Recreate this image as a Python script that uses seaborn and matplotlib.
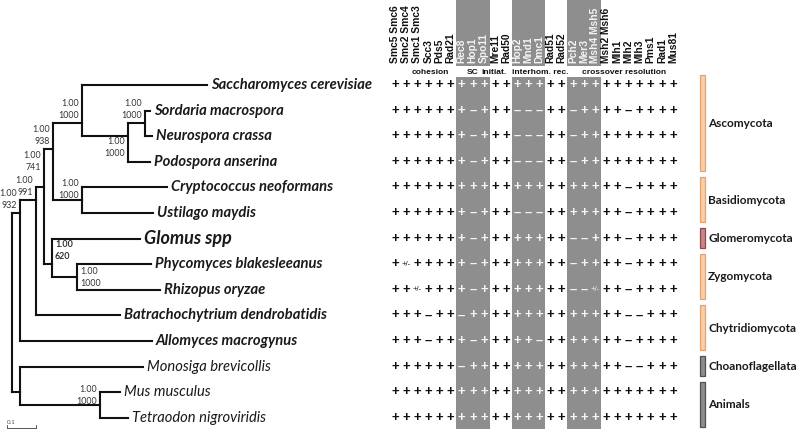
import matplotlib
matplotlib.use("Agg")
import numpy as np
import pandas as pd
import seaborn as sns
import matplotlib.pyplot as plt
from matplotlib.patches import Rectangle
from matplotlib.colors import ListedColormap
from matplotlib.collections import LineCollection
import matplotlib.transforms as mtransforms

# ---------------------------------------------------------------- data
species = ["Saccharomyces cerevisiae", "Sordaria macrospora", "Neurospora crassa",
           "Podospora anserina", "Cryptococcus neoformans", "Ustilago maydis",
           "Glomus spp", "Phycomyces blakesleeanus", "Rhizopus oryzae",
           "Batrachochytrium dendrobatidis", "Allomyces macrogynus",
           "Monosiga brevicollis", "Mus musculus", "Tetraodon nigroviridis"]
species_kind = ["fungus"] * 6 + ["glomus"] + ["fungus"] * 4 + ["other"] * 3

genes = ["Smc5 Smc6", "Smc2 Smc4", "Smc1 Smc3", "Scc3", "Pds5", "Rad21",
         "Rec8", "Hop1", "Spo11", "Mre11", "Rad50", "Hop2", "Mnd1", "Dmc1",
         "Rad51", "Rad52", "Pch2", "Mer3", "Msh4 Msh5", "Msh2 Msh6",
         "Mlh1", "Mlh2", "Mlh3", "Pms1", "Rad1", "Mus81"]
shaded = [0, 0, 0, 0, 0, 0, 1, 1, 1, 0, 0, 1, 1, 1, 0, 0, 1, 1, 1, 0, 0, 0, 0, 0, 0, 0]

process_labels = ["cohesion", "SC", "initiat.", "interhom. rec.", "crossover resolution"]

# '+' present, '-' absent, '~' uncertain (+/-)
presence = [
    "++++++" "+++" "++" "+++" "++" "+++" "+++++++",
    "++++++" "+-+" "++" "---" "++" "-++" "++-++++",
    "++++++" "+-+" "++" "---" "++" "-++" "+++++++",
    "++++++" "+-+" "++" "---" "++" "-++" "+++++++",
    "++++++" "+++" "++" "+++" "++" "+++" "++-++++",
    "++++++" "+-+" "++" "---" "++" "+++" "++-++++",
    "++++++" "+-+" "++" "+++" "++" "--+" "++-++++",
    "+~++++" "+-+" "++" "+++" "++" "-++" "++-++++",
    "++~+++" "+-+" "++" "+++" "++" "--~" "++-++++",
    "+++-++" "-++" "++" "+++" "++" "+++" "++--+++",
    "+++-++" "+-+" "++" "++-" "++" "+++" "++-++++",
    "++++++" "-++" "++" "+++" "++" "+++" "++--+++",
    "++++++" "+++" "++" "+++" "++" "+++" "+++++++",
    "++++++" "+++" "++" "+++" "++" "+++" "+++++++",
]
symbol = {"+": "+", "-": "\u2013", "~": "+/-"}

# tree: internal nodes (parents listed before children)
internal_nodes = ["root", "Fungi", "A", "B", "Dikarya", "Asco", "Pezizo", "SorNeu",
                  "Basidio", "GloZyg", "Zygo", "Holozoa", "Animals"]
internal_parent = [None, "root", "Fungi", "A", "B", "Dikarya", "Asco", "Pezizo",
                   "Dikarya", "B", "GloZyg", "root", "Holozoa"]
internal_branch = [0.0, 0.028, 0.056, 0.025, 0.032, 0.100, 0.159, 0.059,
                   0.100, 0.029, 0.086, 0.028, 0.275]
support_pp = [None, "1.00", "1.00", "1.00", "1.00", "1.00", "1.00", "1.00",
              "1.00", "1.00", "1.00", None, "1.00"]
support_bs = [None, "932", "991", "741", "938", "1000", "1000", "1000",
              "1000", "620", "1000", None, "1000"]
tip_parent = ["Asco", "SorNeu", "SorNeu", "Pezizo", "Basidio", "Basidio", "GloZyg",
              "Zygo", "Zygo", "A", "Fungi", "Holozoa", "Animals", "Animals"]
tip_branch = [0.431, 0.017, 0.024, 0.076, 0.293, 0.245, 0.303, 0.255, 0.286,
              0.288, 0.455, 0.424, 0.069, 0.097]

clades = ["Ascomycota", "Basidiomycota", "Glomeromycota", "Zygomycota",
          "Chytridiomycota", "Choanoflagellata", "Animals"]
clade_first = [0, 4, 6, 7, 9, 11, 12]
clade_last = [3, 5, 6, 8, 10, 11, 13]

# ---------------------------------------------------------------- styles / layout
W, H = 797, 432
ROW0, ROWSTEP = 85.0, 25.6          # px of first row, px between rows
COL0, COLSTEP = 395.0, 11.12        # px of first column, px between columns
ROOTX, TREESCALE = 12.0, 290.0      # px of root, px per tree unit

support_side = {"Fungi": "L", "A": "L", "B": "L", "Dikarya": "L", "Asco": "L",
                "Pezizo": "L", "SorNeu": "L", "Basidio": "L", "GloZyg": "R",
                "Zygo": "R", "Animals": "L"}
support_dy = {"Fungi": 0, "A": 0, "B": 12, "Dikarya": 0, "Asco": 0, "Pezizo": -24.5,
              "SorNeu": 0, "Basidio": -2.5, "GloZyg": 0, "Zygo": -14, "Animals": -3.5}
process_px = [430, 472.5, 494, 540, 624.5]
clade_fill = ["#f9cfa8", "#f9cfa8", "#c98486", "#f9cfa8", "#f9cfa8", "#8d8d8d", "#8d8d8d"]
clade_edge = ["#e3a470", "#e3a470", "#8e4a4e", "#e3a470", "#e3a470", "#505050", "#505050"]
GRAY = "#8e8e8e"


def col_x(px):
    return (px - COL0) / COLSTEP + 0.5


def row_y(px):
    return (px - ROW0) / ROWSTEP + 0.5


def tree_x(px):
    return (px - ROOTX) / TREESCALE


sns.set_style("white")
plt.rcParams["font.family"] = ["Lato", "DejaVu Sans"]

fig = plt.figure(figsize=(W / 100, H / 100), dpi=100)
ax_tree = fig.add_axes([0, 0, 1, 1])
ax_tab = fig.add_axes([0, 0, 1, 1])
ylim = (row_y(H), row_y(0))

# ---------------------------------------------------------------- table (seaborn heatmap)
n_rows, n_cols = len(species), len(genes)
shade = pd.DataFrame(np.tile(np.array(shaded, float), (n_rows, 1)), index=species, columns=genes)
annot = np.array([[symbol[c] for c in row] for row in presence])
sns.heatmap(shade, annot=annot, fmt="", cmap=ListedColormap(["#ffffff", GRAY]),
            vmin=0, vmax=1, cbar=False, linewidths=0, ax=ax_tab,
            xticklabels=False, yticklabels=False,
            annot_kws=dict(fontsize=9.5, family="Liberation Sans", fontweight="bold"))
mesh = ax_tab.collections[0]
clip = Rectangle((0, row_y(77)), n_cols, row_y(428.5) - row_y(77), transform=ax_tab.transData)
mesh.set_clip_path(clip)
for t in ax_tab.texts:
    x, y = t.get_position()
    j = int(x)
    t.set_color("#f4f4f4" if shaded[j] else "#111111")
    if t.get_text() == "+/-":
        t.set_fontsize(5.5)
        t.set_fontweight("normal")

# gray header bands
j = 0
while j < n_cols:
    if shaded[j]:
        k = j
        while k < n_cols and shaded[k]:
            k += 1
        ax_tab.add_patch(Rectangle((j, row_y(0)), k - j, row_y(66) - row_y(0),
                                   facecolor=GRAY, edgecolor="none", zorder=0))
        j = k
    else:
        j += 1

for j, g in enumerate(genes):
    ax_tab.text(j + 0.5, row_y(63), g, rotation=90, ha="center", va="bottom",
                fontsize=7.4, fontweight="bold", family="Liberation Sans",
                color="#f4f4f4" if shaded[j] else "#111111")
for lab, px in zip(process_labels, process_px):
    ax_tab.text(col_x(px), row_y(72), lab, ha="center", va="center", fontsize=6,
                fontweight="bold", family="Liberation Sans", color="#111111")

# clade bars
for name, f, l, fc, ec in zip(clades, clade_first, clade_last, clade_fill, clade_edge):
    y0, y1 = f + 0.1, l + 0.87
    ax_tab.add_patch(Rectangle((col_x(699.5), y0), col_x(705) - col_x(699.5), y1 - y0,
                               facecolor=fc, edgecolor=ec, linewidth=0.9))
    ax_tab.text(col_x(708), (f + l) / 2 + 0.5, name, ha="left", va="center",
                fontsize=8.5, fontweight="bold", color="#1a1a1a")

ax_tab.set_xlim(col_x(0), col_x(W))
ax_tab.set_ylim(*ylim)
ax_tab.axis("off")

# ---------------------------------------------------------------- tree
parent = dict(zip(internal_nodes, internal_parent))
parent.update(dict(zip(species, tip_parent)))
blen = dict(zip(internal_nodes, internal_branch))
blen.update(dict(zip(species, tip_branch)))

depth = {}
for n in internal_nodes + species:
    p = parent[n]
    depth[n] = 0.0 if p is None else depth[p] + blen[n]

ypos = {s: i + 0.5 for i, s in enumerate(species)}
desc = {n: [] for n in internal_nodes}
for s in species:
    p = parent[s]
    while p is not None:
        desc[p].append(ypos[s])
        p = parent[p]
for n in internal_nodes:
    ypos[n] = float(np.mean(desc[n]))

children = {n: [] for n in internal_nodes}
for n in internal_nodes[1:] + species:
    children[parent[n]].append(n)

segs = []
for n in internal_nodes[1:] + species:
    segs.append([(depth[parent[n]], ypos[n]), (depth[n], ypos[n])])
for n in internal_nodes:
    cy = [ypos[c] for c in children[n]]
    segs.append([(depth[n], min(cy)), (depth[n], max(cy))])
ax_tree.add_collection(LineCollection(segs, colors="#111111", linewidths=1.5,
                                      capstyle="projecting"))

lab_tr = mtransforms.offset_copy(ax_tree.transData, fig=fig, x=4, y=0, units="dots")
for s, kind in zip(species, species_kind):
    if kind == "fungus":
        kw = dict(fontsize=10.6, fontweight="bold", style="italic")
    elif kind == "glomus":
        kw = dict(fontsize=13, fontweight="bold", style="italic")
    else:
        kw = dict(fontsize=10.6, fontweight="normal", style="italic")
    ax_tree.text(depth[s], ypos[s], s, transform=lab_tr, ha="left", va="center",
                 color="#1a1a1a", **kw)

for n, pp, bs in zip(internal_nodes, support_pp, support_bs):
    if pp is None:
        continue
    side = support_side[n]
    dy = support_dy[n]
    dx = -3 if side == "L" else 3
    ha = "right" if side == "L" else "left"
    w = "bold" if n == "GloZyg" else "normal"
    for txt, up in ((pp, 19.5), (bs, 7.5)):
        tr = mtransforms.offset_copy(ax_tree.transData, fig=fig, x=dx, y=up + dy, units="dots")
        ax_tree.text(depth[n], ypos[n], txt, transform=tr, ha=ha, va="center",
                     fontsize=6.4, fontweight=w, color="#333333")

# scale bar
sx0 = tree_x(7)
ax_tree.plot([sx0, sx0 + 0.1], [row_y(428), row_y(428)], color="#555555", lw=0.7)
for xx in (sx0, sx0 + 0.1):
    ax_tree.plot([xx, xx], [row_y(428), row_y(425)], color="#555555", lw=0.7)
ax_tree.text(sx0, row_y(425), "0.1", ha="left", va="bottom", fontsize=4.5, color="#555555")

ax_tree.set_xlim(tree_x(0), tree_x(W))
ax_tree.set_ylim(*ylim)
ax_tree.axis("off")

fig.savefig("out.png", dpi=100)
